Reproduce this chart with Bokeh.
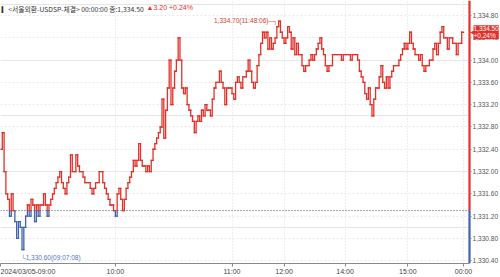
from bokeh.plotting import figure
from bokeh.models import FixedTicker, NumeralTickFormatter, Range1d, Label, ColumnDataSource, LinearAxis, Grid
from bokeh.embed import file_html
from bokeh.resources import INLINE

# ---- data ----
prices = [
    1332.4, 1332.7, 1332.0, 1331.6, 1331.5, 1331.2, 1331.6, 1331.3, 1331.1, 1330.8,
    1331.1, 1331.0, 1330.6, 1331.0, 1331.2, 1331.4, 1331.2, 1331.5, 1331.4, 1331.1,
    1331.4, 1331.2, 1331.4, 1331.4, 1331.6, 1331.4, 1331.2, 1331.4, 1331.5, 1331.6,
    1331.7, 1331.8, 1331.9, 1332.0, 1331.8, 1331.7, 1331.6, 1331.8, 1331.9, 1332.3,
    1332.0, 1332.0, 1332.3, 1332.1, 1332.0, 1332.0, 1331.9, 1331.8, 1331.8, 1331.8,
    1331.7, 1331.6, 1331.7, 1331.8, 1331.8, 1332.0, 1332.0, 1331.8, 1331.7, 1331.6,
    1331.5, 1331.4, 1331.4, 1331.3, 1331.2, 1331.6, 1331.7, 1331.5, 1331.3, 1331.5,
    1331.7, 1331.8, 1331.9, 1332.0, 1332.2, 1332.1, 1332.2, 1332.5, 1332.2, 1332.1,
    1332.1, 1332.0, 1332.1, 1332.0, 1332.2, 1332.4, 1332.5, 1332.6, 1332.7, 1332.8,
    1333.3, 1332.6, 1333.1, 1333.5, 1334.0, 1333.2, 1333.5, 1333.8, 1334.0, 1334.4,
    1334.0, 1333.5, 1333.4, 1333.5, 1333.2, 1333.1, 1333.0, 1332.9, 1332.7, 1332.9,
    1333.0, 1332.9, 1333.1, 1333.0, 1333.2, 1333.1, 1333.1, 1333.0, 1333.3, 1333.5,
    1333.6, 1333.6, 1333.8, 1333.6, 1333.5, 1333.2, 1333.5, 1333.5, 1333.5, 1333.4,
    1333.3, 1333.6, 1333.7, 1333.6, 1333.5, 1333.7, 1333.7, 1333.8, 1334.0, 1333.8,
    1333.6, 1333.5, 1333.6, 1333.9, 1334.1, 1334.3, 1334.5, 1334.4, 1334.5, 1334.2,
    1334.4, 1334.2, 1334.3, 1334.4, 1334.6, 1334.7, 1334.5, 1334.4, 1334.3, 1334.4,
    1334.6, 1334.5, 1334.2, 1334.4, 1334.1, 1334.3, 1334.1, 1334.1, 1333.9, 1333.8,
    1333.9, 1333.9, 1334.0, 1334.1, 1334.0, 1334.1, 1334.2, 1334.3, 1334.4, 1334.2,
    1334.1, 1333.9, 1333.8, 1333.9, 1333.9, 1334.1, 1334.1, 1334.1, 1334.1, 1334.1,
    1334.0, 1334.1, 1334.1, 1334.1, 1334.1, 1334.0, 1334.1, 1334.1, 1334.1, 1334.0,
    1333.8, 1333.7, 1333.6, 1333.4, 1333.3, 1333.5, 1333.2, 1333.0, 1333.3, 1333.5,
    1333.5, 1333.7, 1333.9, 1333.6, 1333.5, 1333.7, 1333.5, 1333.7, 1333.8, 1333.9,
    1333.9, 1333.9, 1334.0, 1334.1, 1334.2, 1334.3, 1334.2, 1334.3, 1334.5, 1334.3,
    1334.2, 1334.1, 1334.1, 1334.0, 1334.1, 1333.9, 1333.8, 1333.9, 1333.9, 1334.0,
    1334.0, 1334.2, 1334.3, 1334.1, 1334.3, 1334.5, 1334.6, 1334.4, 1334.4, 1334.2,
    1334.4, 1334.4, 1334.3, 1334.3, 1334.1, 1334.3, 1334.3, 1334.5, 1334.5,
]
prev_close = 1331.30
close = 1334.50
change = 3.20
change_pct = 0.24
hour_idx = [0, 64, 129, 158, 192, 227, 258]
hour_labels = ["2024/03/05-09:00", "10:00", "11:00", "12:00", "14:00", "15:00", "00:00"]
y_ticks = [1330.4, 1330.8, 1331.2, 1331.6, 1332.0, 1332.4, 1332.8,
           1333.2, 1333.6, 1334.0, 1334.4, 1334.8]
max_time = "11:48:06"
min_time = "09:07:08"
title_name = "\u258e<서울외환-USDSP-체결>"
title_time = "00:00:00"

RED = "#e2312a"
BLUE = "#3f63ae"
FONT = "Liberation Sans"

n = len(prices)
px = (n - 1) / 463.0          # data units per pixel along x
x_end = 500 * px              # frame spans the full width
x_bar = 469 * px              # price-scale line position
y_start, y_end = 1330.35, 1335.07

# ---- build step segments coloured by side of previous close ----
x0, y0, x1, y1, col = [], [], [], [], []

def add_seg(xa, ya, xb, yb):
    lo, hi = min(ya, yb), max(ya, yb)
    if lo < prev_close < hi:
        add_seg(xa, ya, xb, prev_close)
        add_seg(xb, prev_close, xb, yb)
        return
    c = RED if min(ya, yb) >= prev_close else BLUE
    x0.append(xa); y0.append(ya); x1.append(xb); y1.append(yb); col.append(c)

for i in range(n - 1):
    add_seg(i, prices[i], i + 1, prices[i])
    if prices[i + 1] != prices[i]:
        add_seg(i + 1, prices[i], i + 1, prices[i + 1])

src = ColumnDataSource(dict(x0=x0, y0=y0, x1=x1, y1=y1, c=col))

p = figure(width=500, height=277, output_backend="svg", toolbar_location=None,
           x_range=Range1d(0, x_end), y_range=Range1d(y_start, y_end),
           y_axis_location=None, min_border_left=0, min_border_top=0,
           min_border_right=0, min_border_bottom=0)
p.outline_line_color = None
p.background_fill_color = "white"

# vertical grid at the hour ticks
p.xgrid.ticker = FixedTicker(ticks=hour_idx)
p.xgrid.grid_line_color = "#dcdcdc"
p.xgrid.grid_line_dash = "1 2"

# x axis
xa = p.xaxis[0]
xa.ticker = FixedTicker(ticks=hour_idx)
xa.major_label_overrides = {i: s for i, s in zip(hour_idx, hour_labels)}
xa.major_label_text_font = FONT
xa.major_label_text_font_size = "7px"
xa.major_label_text_color = "#444444"
xa.major_label_text_align = "left"
xa.major_label_standoff = 1
xa.major_tick_out = 3
xa.major_tick_in = 0
xa.minor_tick_out = 0
xa.minor_tick_in = 0
xa.axis_line_color = "#8a8a8a"
xa.major_tick_line_color = "#8a8a8a"
xa.bounds = (0, x_bar)

# y axis: price scale pinned at the right-hand price line
ya = LinearAxis(fixed_location=x_bar, ticker=FixedTicker(ticks=y_ticks),
                formatter=NumeralTickFormatter(format="0,0.00"))
ya.major_label_text_font = FONT
ya.major_label_text_font_size = "6.6px"
ya.major_label_text_color = "#555555"
ya.major_label_standoff = 1
ya.major_tick_out = 2
ya.major_tick_in = 0
ya.minor_tick_out = 0
ya.minor_tick_in = 0
ya.axis_line_color = None
ya.major_tick_line_color = "#888888"
p.add_layout(ya, "right")

yg = Grid(dimension=1, ticker=ya.ticker, grid_line_color="#e8e8e8", grid_line_dash="2 2")
p.add_layout(yg)

# blank band right of the price line (under the price scale labels)
p.quad(left=[x_bar], right=[x_end], bottom=[y_start], top=[y_end],
       fill_color="white", line_color=None)

# previous close dotted line
p.segment(x0=[0], y0=[prev_close], x1=[x_bar], y1=[prev_close],
          line_color="#3a4a6a", line_dash="1 2", line_width=1)

# price line
p.segment("x0", "y0", "x1", "y1", color="c", line_width=1.3, line_cap="square", source=src)

# right vertical bar (red above prev close, blue below)
p.segment(x0=[x_bar, x_bar], y0=[y_end, prev_close], x1=[x_bar, x_bar], y1=[prev_close, y_start],
          color=[RED, BLUE], line_width=2.2)

# max / min annotations
i_max = max(range(n), key=lambda k: prices[k])
i_min = min(range(n), key=lambda k: prices[k])
p.add_layout(Label(x=i_max, y=prices[i_max], x_offset=-1, y_offset=1,
                   text=f"{prices[i_max]:,.2f}({max_time})\u2500\u2510",
                   text_align="right", text_baseline="middle", text_font=FONT,
                   text_font_size="6.5px", text_color="#d4402f"))
p.add_layout(Label(x=i_min, y=prices[i_min], x_offset=-1, y_offset=-8,
                   text=f"\u2514{prices[i_min]:,.2f}({min_time})",
                   text_align="left", text_baseline="middle", text_font=FONT,
                   text_font_size="6.5px", text_color="#5a78b8"))

# title
p.add_layout(Label(x=0, y=y_end, x_offset=1, y_offset=-3, text=f"{title_name} {title_time} 종:{close:,.2f}",
                   text_align="left", text_baseline="top", text_font="Noto Sans CJK KR",
                   text_font_size="6.8px", text_color="#333333"))
p.add_layout(Label(x=0, y=y_end, x_offset=146, y_offset=-3, text=f"\u25b2{change:.2f}  +{change_pct:.2f}%",
                   text_align="left", text_baseline="top", text_font=FONT,
                   text_font_size="7px", text_color=RED))

# current price tag
p.add_layout(Label(x=x_bar, y=close, x_offset=4, text=f"{close:,.2f}\n+{change_pct:.2f}%",
                   text_align="left", text_baseline="middle", text_font=FONT,
                   text_font_size="6.5px", text_color="white", text_line_height=1.0,
                   background_fill_color=RED, background_fill_alpha=1.0))
p.add_layout(Label(x=x_bar, y=close, x_offset=0, text="\u25c0",
                   text_align="left", text_baseline="middle",
                   text_font_size="6px", text_color=RED))

open("out.html", "w").write(file_html(p, INLINE))
